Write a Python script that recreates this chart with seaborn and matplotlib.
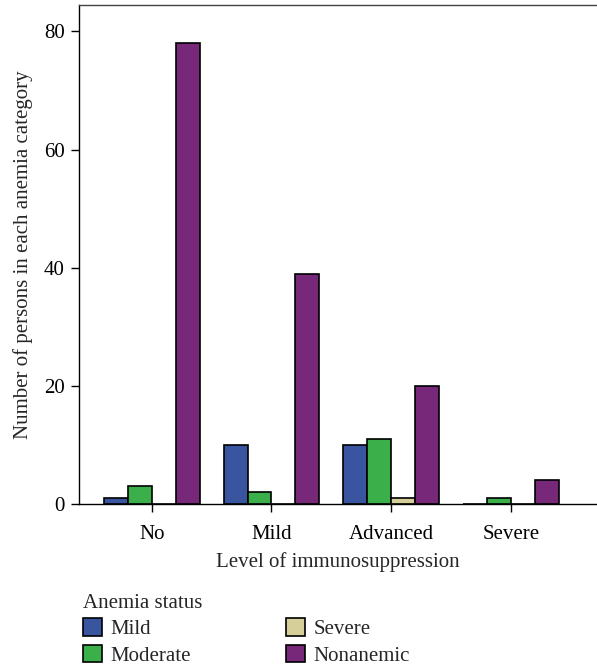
import pandas as pd
import seaborn as sns
import matplotlib.pyplot as plt

# values
levels = ['No', 'Mild', 'Advanced', 'Severe']
statuses = ['Mild', 'Moderate', 'Severe', 'Nonanemic']
mild = [1, 10, 10, 0]
moderate = [3, 2, 11, 1]
severe = [0, 0, 1, 0]
nonanemic = [78, 39, 20, 4]

colors = ['#3a55a0', '#3bb04a', '#d6cf9a', '#772878']

rows = []
for status, vals in zip(statuses, [mild, moderate, severe, nonanemic]):
    for lvl, v in zip(levels, vals):
        rows.append({'level': lvl, 'status': status, 'count': v})
data = pd.DataFrame(rows)

sns.set_style("ticks")
plt.rcParams['font.family'] = ['Liberation Serif', 'DejaVu Serif']
fs = 15

fig = plt.figure(figsize=(5.97, 6.65), dpi=100)
ax = fig.add_axes([0.132, 0.242, 0.868, 0.75])

sns.barplot(data=data, x='level', y='count', hue='status', order=levels,
            hue_order=statuses, palette=colors, saturation=1,
            edgecolor='black', linewidth=1.2, width=0.8, ax=ax)

ax.set_xlim(-0.61, 3.72)
ax.set_ylim(0, 84.4)
ax.set_yticks([0, 20, 40, 60, 80])
ax.set_xlabel('Level of immunosuppression', fontsize=fs, labelpad=6)
ax.set_ylabel('Number of persons in each anemia category', fontsize=fs, labelpad=8)
ax.tick_params(axis='both', direction='out', length=6, width=1, colors='black',
               labelsize=fs, pad=4)
ax.tick_params(axis='x', pad=9)
for side in ['left', 'bottom', 'top']:
    ax.spines[side].set_color('black')
    ax.spines[side].set_linewidth(1)
ax.spines['top'].set_color('#444444')
ax.spines['right'].set_visible(False)

ax.get_legend().remove()
handles, labels = ax.get_legend_handles_labels()
leg = fig.legend(handles, labels, title='Anemia status', ncol=2,
                 loc='upper left', bbox_to_anchor=(0.125, 0.12),
                 frameon=False, fontsize=fs, title_fontsize=fs,
                 handlelength=0.9, handleheight=0.9, handletextpad=0.4,
                 columnspacing=4.6, labelspacing=0.28, borderaxespad=0)
leg._legend_box.align = 'left'

fig.savefig('out.png', dpi=100)
